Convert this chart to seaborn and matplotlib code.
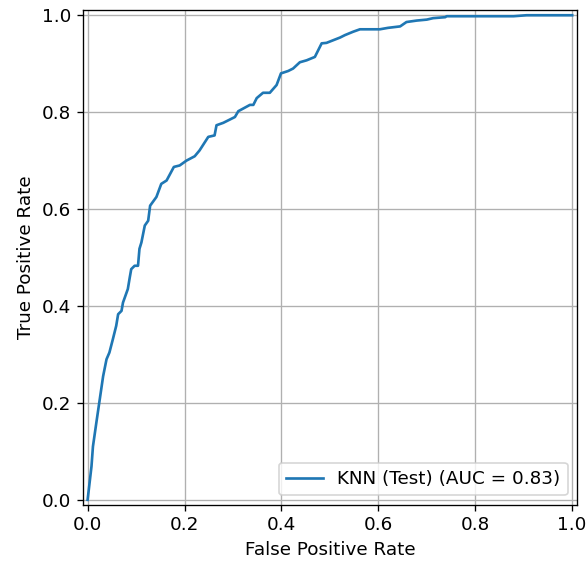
import matplotlib
matplotlib.use("Agg")
import matplotlib.pyplot as plt
import seaborn as sns
import pandas as pd

fpr = [0.0, 0.008, 0.011, 0.018, 0.025, 0.032, 0.039, 0.045, 0.052, 0.059, 0.063, 0.070,
       0.073, 0.083, 0.087, 0.090, 0.097, 0.104, 0.107, 0.111, 0.118, 0.125, 0.129, 0.142,
       0.152, 0.163, 0.178, 0.190, 0.204, 0.221, 0.231, 0.249, 0.262, 0.266, 0.280, 0.304,
       0.311, 0.335, 0.342, 0.349, 0.362, 0.376, 0.390, 0.399, 0.414, 0.424, 0.438, 0.452,
       0.469, 0.483, 0.493, 0.521, 0.531, 0.548, 0.562, 0.603, 0.620, 0.645, 0.658, 0.679,
       0.700, 0.713, 0.738, 0.741, 0.879, 0.906, 1.0]
tpr = [0.0, 0.069, 0.110, 0.159, 0.207, 0.255, 0.290, 0.304, 0.331, 0.359, 0.383, 0.390,
       0.407, 0.435, 0.459, 0.476, 0.483, 0.483, 0.518, 0.531, 0.566, 0.576, 0.607, 0.625,
       0.652, 0.659, 0.687, 0.690, 0.700, 0.709, 0.721, 0.749, 0.752, 0.773, 0.778, 0.790,
       0.802, 0.815, 0.815, 0.829, 0.840, 0.840, 0.856, 0.880, 0.885, 0.890, 0.903, 0.907,
       0.914, 0.942, 0.943, 0.954, 0.959, 0.966, 0.971, 0.971, 0.974, 0.977, 0.986, 0.989,
       0.991, 0.994, 0.996, 0.998, 0.998, 1.0, 1.0]
label = "KNN (Test) (AUC = 0.83)"

df = pd.DataFrame({"fpr": fpr, "tpr": tpr, "model": label})

plt.rcParams["font.size"] = 11

fig = plt.figure(figsize=(587 / 120, 566 / 120), dpi=120)
ax = fig.add_axes([0.141, 0.108, 0.842, 0.874])
sns.lineplot(data=df, x="fpr", y="tpr", hue="model", estimator=None, sort=False,
             palette=["#1f77b4"], linewidth=1.6, ax=ax)
ax.set_xlim(-0.01, 1.01)
ax.set_ylim(-0.01, 1.01)
ax.set_aspect("equal")
ax.set_xlabel("False Positive Rate")
ax.set_ylabel("True Positive Rate")
ax.grid(True)
ax.legend(loc="lower right")
fig.savefig("out.png", dpi=120)
